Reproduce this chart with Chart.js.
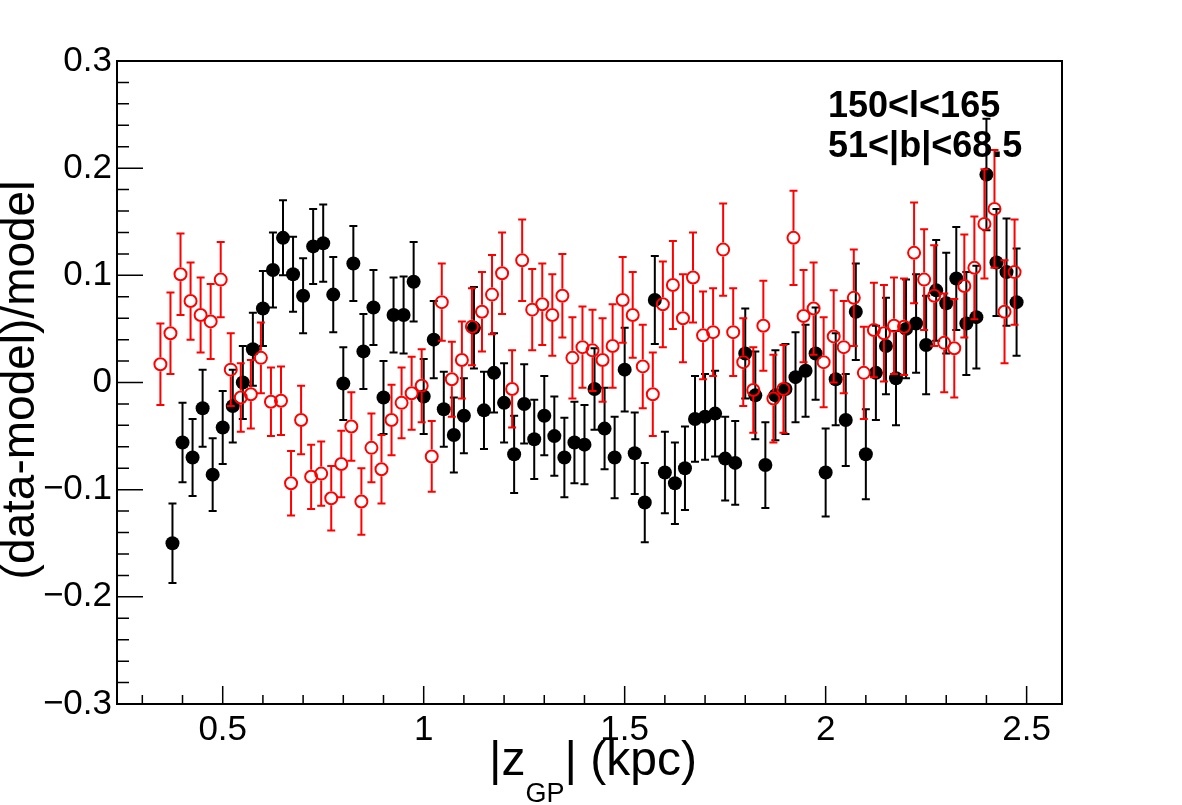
<!DOCTYPE html>
<html>
<head>
<meta charset="utf-8">
<script src="https://cdn.jsdelivr.net/npm/chart.js@4/dist/chart.umd.min.js"></script>
<style>
  body { margin: 0; background: #fff; }
  canvas { display: block; }
</style>
</head>
<body>
<canvas id="chart" width="1182" height="805"></canvas>
<script>
// black points (filled)
const zBlack = [0.375, 0.4, 0.425, 0.45, 0.475, 0.5, 0.525, 0.55, 0.575, 0.6, 0.625, 0.65, 0.675, 0.7, 0.725, 0.75, 0.775, 0.8, 0.825, 0.85,
  0.875, 0.9, 0.925, 0.95, 0.975, 1.0, 1.025, 1.05, 1.075, 1.1, 1.125, 1.15, 1.175, 1.2, 1.225, 1.25, 1.275, 1.3, 1.325, 1.35,
  1.375, 1.4, 1.425, 1.45, 1.475, 1.5, 1.525, 1.55, 1.575, 1.6, 1.625, 1.65, 1.675, 1.7, 1.725, 1.75, 1.775, 1.8, 1.825, 1.85,
  1.875, 1.9, 1.925, 1.95, 1.975, 2.0, 2.025, 2.05, 2.075, 2.1, 2.125, 2.15, 2.175, 2.2, 2.225, 2.25, 2.275, 2.3, 2.325, 2.35,
  2.375, 2.4, 2.425, 2.45, 2.475];
const ratioBlack = [-0.150, -0.056, -0.070, -0.024, -0.086, -0.042, -0.022, 0.000, 0.031, 0.069, 0.105, 0.135, 0.101, 0.081, 0.127, 0.130, 0.082, -0.001, 0.111, 0.029,
  0.070, -0.014, 0.063, 0.063, 0.094, -0.013, 0.040, -0.025, -0.049, -0.031, 0.051, -0.026, 0.009, -0.019, -0.067, -0.020, -0.053, -0.031, -0.050, -0.070,
  -0.056, -0.058, -0.006, -0.043, -0.070, 0.012, -0.066, -0.112, 0.077, -0.084, -0.094, -0.080, -0.034, -0.032, -0.029, -0.071, -0.075, 0.027, -0.012, -0.077,
  -0.012, -0.006, 0.005, 0.011, 0.027, -0.084, 0.003, -0.035, 0.066, -0.067, 0.009, 0.034, 0.004, 0.050, 0.055, 0.035, 0.086, 0.074, 0.097, 0.055,
  0.061, 0.194, 0.112, 0.103, 0.075];
const errBlack = [0.037, 0.037, 0.036, 0.036, 0.034, 0.034, 0.034, 0.034, 0.034, 0.035, 0.035, 0.035, 0.035, 0.035, 0.035, 0.036, 0.035, 0.034, 0.035, 0.035,
  0.035, 0.034, 0.035, 0.036, 0.037, 0.035, 0.036, 0.035, 0.035, 0.035, 0.038, 0.036, 0.037, 0.037, 0.036, 0.037, 0.037, 0.037, 0.037, 0.037,
  0.038, 0.037, 0.038, 0.038, 0.038, 0.039, 0.038, 0.037, 0.041, 0.038, 0.038, 0.039, 0.040, 0.040, 0.040, 0.039, 0.039, 0.042, 0.041, 0.040,
  0.042, 0.042, 0.042, 0.043, 0.043, 0.041, 0.043, 0.043, 0.045, 0.042, 0.044, 0.045, 0.044, 0.046, 0.046, 0.046, 0.047, 0.047, 0.048, 0.048,
  0.048, 0.052, 0.050, 0.050, 0.050];

// red points (open)
const zRed = [0.345, 0.37, 0.395, 0.42, 0.445, 0.47, 0.495, 0.52, 0.545, 0.57, 0.595, 0.62, 0.645, 0.67, 0.695, 0.72, 0.745, 0.77, 0.795, 0.82,
  0.845, 0.87, 0.895, 0.92, 0.945, 0.97, 0.995, 1.02, 1.045, 1.07, 1.095, 1.12, 1.145, 1.17, 1.195, 1.22, 1.245, 1.27, 1.295, 1.32,
  1.345, 1.37, 1.395, 1.42, 1.445, 1.47, 1.495, 1.52, 1.545, 1.57, 1.595, 1.62, 1.645, 1.67, 1.695, 1.72, 1.745, 1.77, 1.795, 1.82,
  1.845, 1.87, 1.895, 1.92, 1.945, 1.97, 1.995, 2.02, 2.045, 2.07, 2.095, 2.12, 2.145, 2.17, 2.195, 2.22, 2.245, 2.27, 2.295, 2.32,
  2.345, 2.37, 2.395, 2.42, 2.445, 2.47];
const ratioRed = [0.017, 0.046, 0.101, 0.076, 0.063, 0.057, 0.096, 0.012, -0.014, -0.011, 0.023, -0.018, -0.017, -0.094, -0.035, -0.088, -0.085, -0.108, -0.076, -0.041,
  -0.111, -0.061, -0.081, -0.035, -0.019, -0.010, -0.003, -0.069, 0.075, 0.003, 0.021, 0.052, 0.066, 0.082, 0.102, -0.006, 0.114, 0.068, 0.073, 0.063,
  0.081, 0.023, 0.033, 0.030, 0.021, 0.034, 0.077, 0.063, 0.015, -0.011, 0.073, 0.091, 0.060, 0.098, 0.044, 0.047, 0.124, 0.047, 0.019, -0.007,
  0.053, -0.015, -0.006, 0.135, 0.062, 0.069, 0.019, 0.043, 0.033, 0.079, 0.009, 0.049, 0.046, 0.053, 0.052, 0.121, 0.096, 0.081, 0.037, 0.032,
  0.090, 0.107, 0.148, 0.162, 0.066, 0.103];
const errRed = [0.038, 0.038, 0.038, 0.036, 0.035, 0.035, 0.035, 0.034, 0.032, 0.032, 0.033, 0.032, 0.032, 0.030, 0.032, 0.030, 0.030, 0.030, 0.031, 0.032,
  0.031, 0.032, 0.032, 0.033, 0.033, 0.034, 0.034, 0.033, 0.036, 0.035, 0.036, 0.036, 0.037, 0.037, 0.038, 0.036, 0.038, 0.038, 0.038, 0.038,
  0.039, 0.038, 0.038, 0.038, 0.039, 0.039, 0.040, 0.040, 0.039, 0.039, 0.040, 0.041, 0.041, 0.042, 0.041, 0.041, 0.043, 0.041, 0.041, 0.040,
  0.042, 0.041, 0.041, 0.044, 0.043, 0.043, 0.042, 0.043, 0.043, 0.045, 0.043, 0.044, 0.045, 0.045, 0.045, 0.047, 0.047, 0.047, 0.046, 0.046,
  0.048, 0.048, 0.051, 0.055, 0.048, 0.049];

// axes
const xTickValues = [0.5, 1, 1.5, 2, 2.5];
const yTickValues = [-0.3, -0.2, -0.1, 0, 0.1, 0.2, 0.3];
const xRange = [0.237, 2.588];
const yRange = [-0.3, 0.3];
const labelLines = ["150<l<165", "51<|b|<68.5"];

const FONT = "'Liberation Sans', Arial, Helvetica, sans-serif";

function fmt(v) {
  if (v === 0) return "0";
  return v < 0 ? "\u2212" + Math.abs(v) : String(v);
}

// ROOT-like frame, inward ticks, error bars and texts
const rootStyle = {
  id: "rootStyle",
  beforeDatasetDraw(chart, args) {
    const ds = chart.data.datasets[args.index];
    const xs = chart.scales.x;
    const ys = chart.scales.y;
    const ctx = chart.ctx;
    ctx.save();
    ctx.strokeStyle = ds.barColor;
    ctx.lineWidth = 2;
    ds.data.forEach((p, i) => {
      const e = ds.errors[i];
      const px = xs.getPixelForValue(p.x);
      const py = ys.getPixelForValue(p.y);
      const top = ys.getPixelForValue(p.y + e);
      const bot = ys.getPixelForValue(p.y - e);
      const gap = ds.barGap;
      ctx.beginPath();
      if (py - gap > top) { ctx.moveTo(px, top); ctx.lineTo(px, py - gap); }
      if (py + gap < bot) { ctx.moveTo(px, py + gap); ctx.lineTo(px, bot); }
      ctx.moveTo(px - 4, top); ctx.lineTo(px + 4, top);
      ctx.moveTo(px - 4, bot); ctx.lineTo(px + 4, bot);
      ctx.stroke();
    });
    ctx.restore();
  },
  afterDraw(chart) {
    const ctx = chart.ctx;
    const a = chart.chartArea;
    const xs = chart.scales.x;
    const ys = chart.scales.y;
    ctx.save();
    ctx.strokeStyle = "#000";
    ctx.lineWidth = 2;
    ctx.strokeRect(a.left, a.top, a.right - a.left, a.bottom - a.top);

    // ticks
    ctx.lineWidth = 1.5;
    ctx.beginPath();
    for (let k = 3; k <= 25; k++) {
      const v = k / 10;
      if (v < xRange[0] || v > xRange[1]) continue;
      const px = xs.getPixelForValue(v);
      const len = (k % 5 === 0) ? 18 : 9;
      ctx.moveTo(px, a.bottom);
      ctx.lineTo(px, a.bottom - len);
    }
    for (let k = -15; k <= 15; k++) {
      const py = ys.getPixelForValue(k / 50);
      const len = (k % 5 === 0) ? 26 : 12;
      ctx.moveTo(a.left, py);
      ctx.lineTo(a.left + len, py);
    }
    ctx.stroke();

    // x title with subscript
    ctx.fillStyle = "#000";
    ctx.textBaseline = "alphabetic";
    ctx.textAlign = "left";
    const big = "48px " + FONT;
    const small = "27px " + FONT;
    ctx.font = big;
    const w1 = ctx.measureText("|z").width;
    const w3 = ctx.measureText("| (kpc)").width;
    ctx.font = small;
    const w2 = ctx.measureText("GP").width;
    let x0 = 593 - (w1 + w2 + w3) / 2;
    ctx.font = big;
    ctx.fillText("|z", x0, 775);
    ctx.font = small;
    ctx.fillText("GP", x0 + w1, 802);
    ctx.font = big;
    ctx.fillText("| (kpc)", x0 + w1 + w2, 775);

    // y title
    ctx.save();
    ctx.translate(34, 380);
    ctx.rotate(-Math.PI / 2);
    ctx.textAlign = "center";
    ctx.font = "46px " + FONT;
    ctx.fillText("(data-model)/model", 0, 0);
    ctx.restore();

    // region label
    ctx.font = "bold 36px " + FONT;
    ctx.fillText(labelLines[0], 828, 117);
    ctx.fillText(labelLines[1], 828, 157);
    ctx.restore();
  }
};

const ctx = document.querySelector("#chart");

const myChart = new Chart(ctx, {
  type: "scatter",
  data: {
    datasets: [
      {
        label: "red",
        data: zRed.map((z, i) => ({ x: z, y: ratioRed[i] })),
        errors: errRed,
        barColor: "#ff0000",
        barGap: 7,
        pointRadius: 6,
        pointBorderWidth: 2,
        pointBorderColor: "#ff0000",
        pointBackgroundColor: "rgba(0,0,0,0)",
      },
      {
        label: "black",
        data: zBlack.map((z, i) => ({ x: z, y: ratioBlack[i] })),
        errors: errBlack,
        barColor: "#000000",
        barGap: 0,
        pointRadius: 7,
        pointBorderWidth: 0,
        pointBackgroundColor: "#000000",
      },
    ],
  },
  options: {
    responsive: false,
    animation: false,
    events: [],
    layout: { padding: { top: 61, right: 120, left: 0, bottom: 0 } },
    plugins: { legend: { display: false }, tooltip: { enabled: false } },
    scales: {
      x: {
        type: "linear",
        min: xRange[0],
        max: xRange[1],
        grid: { display: false, drawTicks: false },
        border: { display: false },
        afterBuildTicks: (scale) => { scale.ticks = xTickValues.map((v) => ({ value: v })); },
        afterFit: (scale) => { scale.height = 101; },
        ticks: {
          autoSkip: false,
          maxRotation: 0,
          padding: 5,
          color: "#000",
          font: { family: FONT, size: 35 },
          callback: (v) => fmt(v),
        },
      },
      y: {
        type: "linear",
        min: yRange[0],
        max: yRange[1],
        grid: { display: false, drawTicks: false },
        border: { display: false },
        afterBuildTicks: (scale) => { scale.ticks = yTickValues.map((v) => ({ value: v })); },
        afterFit: (scale) => { scale.width = 117; },
        ticks: {
          autoSkip: false,
          padding: 5,
          color: "#000",
          font: { family: FONT, size: 35 },
          callback: (v) => fmt(v),
        },
      },
    },
  },
  plugins: [rootStyle],
});
</script>
</body>
</html>
